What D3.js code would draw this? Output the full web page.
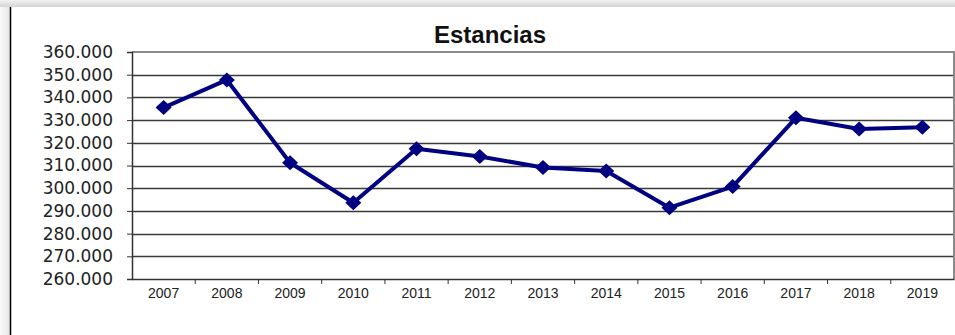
<!DOCTYPE html>
<html lang="es">
  <head>
    <meta charset="utf-8">
    <title>Estancias</title>
    <script src="https://d3js.org/d3.v7.min.js"></script>
    <style>
      html, body { margin: 0; padding: 0; background: #fff; }
      svg { display: block; font-family: "Liberation Sans", Arial, sans-serif; }
    </style>
  </head>
  <body>
    <div id="chart"></div>
    <script>
      // datos: estancias por año
      var years = ["2007", "2008", "2009", "2010", "2011", "2012", "2013",
                   "2014", "2015", "2016", "2017", "2018", "2019"];
      var estancias = [335500, 347700, 311200, 293600, 317400, 314000, 309100,
                       307600, 291400, 300700, 331000, 326100, 326900];
      var yTicks = [260000, 270000, 280000, 290000, 300000, 310000,
                    320000, 330000, 340000, 350000, 360000];

      var w = 955;
      var h = 335;
      var pLeft = 132, pRight = 954, pTop = 52, pBottom = 279;

      var es = d3.formatLocale({decimal: ",", thousands: ".", grouping: [3], currency: ["", " €"]});
      var fmt = es.format(",.0f");

      var svg = d3.select("#chart")
                  .append("svg")
                  .attr("width", w)
                  .attr("height", h);

      // marco de la ventana (sombra arriba e izquierda)
      var defs = svg.append("defs");
      var gTop = defs.append("linearGradient").attr("id", "shTop")
                     .attr("x1", 0).attr("y1", 0).attr("x2", 0).attr("y2", 1);
      gTop.append("stop").attr("offset", "0%").attr("stop-color", "#f2f2f2");
      gTop.append("stop").attr("offset", "100%").attr("stop-color", "#d4d4d4");
      var gLeft = defs.append("linearGradient").attr("id", "shLeft")
                      .attr("x1", 0).attr("y1", 0).attr("x2", 1).attr("y2", 0);
      gLeft.append("stop").attr("offset", "0%").attr("stop-color", "#fafafa");
      gLeft.append("stop").attr("offset", "100%").attr("stop-color", "#e6e6e6");

      svg.append("rect").attr("x", 0).attr("y", 0).attr("width", w).attr("height", 7)
         .style("fill", "url(#shTop)");
      svg.append("rect").attr("x", 0).attr("y", 7).attr("width", 10).attr("height", h - 7)
         .style("fill", "url(#shLeft)");
      svg.append("line")
         .attr("x1", 10.5).attr("x2", 10.5).attr("y1", 7).attr("y2", h)
         .style("stroke", "#000").style("stroke-width", 1.5);

      var x = d3.scaleBand()
                .domain(years)
                .range([pLeft, pRight]);

      var y = d3.scaleLinear()
                .domain([260000, 360000])
                .range([pBottom, pTop]);

      // titulo
      svg.append("text")
         .attr("x", 490)
         .attr("y", 43)
         .attr("text-anchor", "middle")
         .style("font-size", "24px")
         .style("font-weight", "bold")
         .style("fill", "#111")
         .text("Estancias");

      // lineas de la cuadricula
      svg.selectAll("line.grid")
         .data(yTicks.slice(1, -1))
         .enter()
         .append("line")
         .attr("class", "grid")
         .attr("x1", pLeft)
         .attr("x2", pRight)
         .attr("y1", function(d) { return Math.round(y(d)) + 0.5; })
         .attr("y2", function(d) { return Math.round(y(d)) + 0.5; })
         .style("stroke", "#3a3a3a")
         .style("stroke-width", 1.3);

      // borde superior y derecho del area de trazado
      svg.append("path")
         .attr("d", "M" + pLeft + "," + y(360000) + "H" + pRight + "V" + pBottom)
         .style("fill", "none")
         .style("stroke", "#8a8a8a")
         .style("stroke-width", 2);

      // eje Y
      var yAxis = d3.axisLeft(y)
                    .tickValues(yTicks)
                    .tickSize(5)
                    .tickPadding(14)
                    .tickFormat(fmt);
      var gy = svg.append("g")
                  .attr("transform", "translate(" + pLeft + ",0)")
                  .call(yAxis);
      gy.select(".domain").style("stroke", "#333").style("stroke-width", 1.5);
      gy.selectAll(".tick line").style("stroke", "#333");
      gy.selectAll("text")
        .style("font-size", "17px")
        .style("font-family", "'DejaVu Sans', Verdana, sans-serif")
        .style("fill", "#222");

      // eje X
      var xAxis = d3.axisBottom(x)
                    .tickSize(0)
                    .tickPadding(9);
      var gx = svg.append("g")
                  .attr("transform", "translate(0," + pBottom + ")")
                  .call(xAxis);
      gx.select(".domain").style("stroke", "#333").style("stroke-width", 1.5);
      gx.selectAll("text")
        .style("font-size", "14px")
        .style("fill", "#222");

      // marcas entre categorias
      svg.selectAll("line.xtick")
         .data(years.slice(1))
         .enter()
         .append("line")
         .attr("class", "xtick")
         .attr("x1", function(d) { return x(d); })
         .attr("x2", function(d) { return x(d); })
         .attr("y1", pBottom)
         .attr("y2", pBottom + 5)
         .style("stroke", "#333");

      // serie
      var pts = years.map(function(d, i) { return [d, estancias[i]]; });
      var line = d3.line()
                   .x(function(d) { return x(d[0]) + x.bandwidth() / 2; })
                   .y(function(d) { return y(d[1]); });

      svg.append("path")
         .datum(pts)
         .attr("d", line)
         .style("fill", "none")
         .style("stroke", "#000080")
         .style("stroke-width", 4)
         .style("stroke-linejoin", "round");

      svg.selectAll("path.marker")
         .data(pts)
         .enter()
         .append("path")
         .attr("class", "marker")
         .attr("transform", function(d) {
           return "translate(" + (x(d[0]) + x.bandwidth() / 2) + "," + y(d[1]) + ")";
         })
         .attr("d", "M0,-7.5L8,0L0,7.5L-8,0Z")
         .style("fill", "#000080");
    </script>
  </body>
</html>
